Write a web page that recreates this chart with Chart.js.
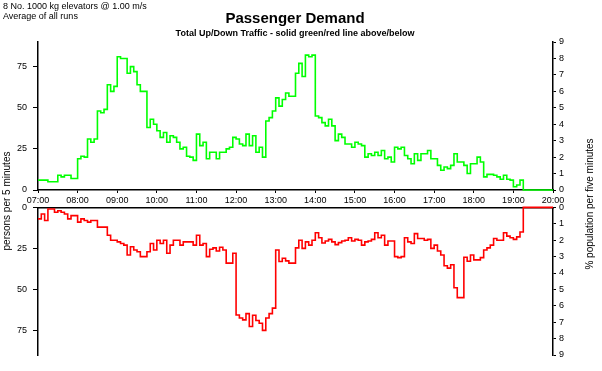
<!DOCTYPE html>
<html>
<head>
<meta charset="utf-8">
<title>Passenger Demand</title>
<script src="https://cdn.jsdelivr.net/npm/chart.js@4.4.0/dist/chart.umd.min.js"></script>
<style>
  body { margin: 0; background: #fff; font-family: Arial, "Liberation Sans", sans-serif; }
  #wrap { position: relative; width: 602px; height: 371px; overflow: hidden; background: #fff; }
  canvas { position: absolute; left: 0; }
  .txt { position: absolute; white-space: nowrap; color: #000; z-index: 2; }
  .vert { width: 160px; height: 12px; line-height: 12px; text-align: center; transform: rotate(-90deg); transform-origin: 80px 6px; }
</style>
</head>
<body>
<div id="wrap">
  <div class="txt" style="left:3px; top:1px; font-size:9px;">8 No. 1000 kg elevators @ 1.00 m/s</div>
  <div class="txt" style="left:3px; top:11px; font-size:9px;">Average of all runs</div>
  <div class="txt" style="left:295px; top:9px; font-size:15px; font-weight:bold; transform:translateX(-50%);">Passenger Demand</div>
  <div class="txt" style="left:295px; top:28px; font-size:9px; font-weight:bold; transform:translateX(-50%);">Total Up/Down Traffic - solid green/red line above/below</div>
  <div class="txt vert" style="left:-73px; top:195px; font-size:10px;">persons per 5 minutes</div>
  <div class="txt vert" style="left:510px; top:198px; font-size:10px;">% population per five minutes</div>
  <canvas id="upChart" width="602" height="206" style="top:0;"></canvas>
  <canvas id="downChart" width="602" height="175" style="top:196px;"></canvas>
</div>
<script>
// 5 minute intervals from 07:00 to 20:00 (156 steps)
const hourLabels = ['07:00', '08:00', '09:00', '10:00', '11:00', '12:00', '13:00',
                    '14:00', '15:00', '16:00', '17:00', '18:00', '19:00', '20:00'];
const personTicks = [0, 25, 50, 75];
const percentTicks = [0, 1, 2, 3, 4, 5, 6, 7, 8, 9];

// up traffic (persons per 5 minutes) - green line above
const upTraffic = [
  6, 6, 6, 5, 5, 5, 9, 8, 9, 9, 7, 7,
  19, 20.5, 20, 31, 29, 31, 48, 47, 49, 64, 60, 63,
  81, 80, 80, 71, 75, 72, 64, 60, 60, 38, 43, 40,
  36, 32, 35, 29, 33, 32, 29, 25, 26, 20.5, 20, 18,
  34, 27, 29, 19, 23, 23, 19, 23, 23, 25, 26, 32,
  31, 28, 27, 34, 27, 33, 23, 26, 20, 42, 44, 48,
  56, 51, 55, 59, 57, 57, 71, 77, 69, 82, 81, 82,
  45, 44, 41, 39, 43, 39, 30, 34, 32, 28, 28, 26,
  29, 28, 27, 20, 22, 21, 23, 21, 24, 19, 20, 17,
  26, 25, 26, 21, 19, 16, 22, 18, 22, 22, 24, 19,
  19, 15, 12, 14, 13, 15, 22, 17, 17, 15, 10, 16,
  16, 20, 17, 8, 9.5, 9.5, 9, 8, 6.5, 9, 6.5, 6,
  2, 3, 6, 0, 0, 0, 0, 0, 0, 0, 0, 0
];

// down traffic (persons per 5 minutes) - red line below
const downTraffic = [
  7, 4, 8, 1, 1, 3, 2, 3, 4, 7, 5, 5,
  9, 7, 8, 9, 8, 8, 12, 12, 12, 17, 20, 20,
  21, 22, 23, 29, 24, 26, 27, 30, 30, 27, 22, 26,
  20, 22, 20, 28, 23, 20, 20, 23, 21, 21, 21, 23,
  17, 23, 22, 30, 25.5, 24.7, 26.6, 24.3, 26, 34, 34, 28,
  65.6, 67.4, 68.6, 64.8, 72.6, 65.8, 69, 70.6, 75, 67.4, 64.8, 61.4,
  26, 33, 31, 32.6, 34, 34, 24.7, 20, 25, 21, 23, 20,
  15.5, 18.5, 21.7, 20.5, 19.5, 21, 22.7, 21.5, 20.5, 20, 18.5, 20.5,
  19.5, 20, 23, 21, 20.5, 19.5, 15.5, 18.5, 17, 23, 20.5, 20.5,
  30, 30.6, 30, 18.5, 21, 22, 16, 19, 19, 20, 19.5, 25,
  23, 26.6, 29, 35.6, 37, 35, 49, 55, 55, 30.4, 32.8, 29,
  32, 32, 30.6, 26, 24.7, 23, 19, 20, 20, 15.5, 17.5, 18.5,
  19.5, 18, 15, 0, 0, 0, 0, 0, 0, 0, 0, 0
];

const FONT = { family: 'Arial, "Liberation Sans", sans-serif', size: 9 };

// minutes after 07:00 for each value, plus a closing point at 20:00
function toPoints(values) {
  const pts = values.map((v, i) => ({ x: i * 5, y: v }));
  pts.push({ x: values.length * 5, y: values[values.length - 1] });
  return pts;
}

function xScale(showLabels, pos, height) {
  return {
    type: 'linear',
    position: pos,
    min: 0,
    max: 780,
    afterBuildTicks: s => { s.ticks = hourLabels.map((l, i) => ({ value: i * 60 })); },
    afterFit: s => { s.height = height; },
    grid: { drawOnChartArea: false, drawTicks: showLabels, tickLength: 3, color: '#000' },
    border: { display: true, color: '#000', width: 1.5 },
    ticks: {
      display: showLabels,
      padding: 2,
      color: '#000',
      font: FONT,
      maxRotation: 0,
      callback: (v) => hourLabels[Math.round(v / 60)]
    }
  };
}

function yScales(reverse) {
  return {
    y: {
      type: 'linear',
      position: 'left',
      min: 0,
      max: 90,
      reverse: reverse,
      afterBuildTicks: s => { s.ticks = personTicks.map(v => ({ value: v })); },
      afterFit: s => { s.width = 38; },
      grid: { drawOnChartArea: false, tickLength: 5, color: '#000' },
      border: { display: true, color: '#000', width: 1.5 },
      ticks: { padding: 6, color: '#000', font: FONT }
    },
    y2: {
      type: 'linear',
      position: 'right',
      min: 0,
      max: 9,
      reverse: reverse,
      afterBuildTicks: s => { s.ticks = percentTicks.map(v => ({ value: v })); },
      afterFit: s => { s.width = 49; },
      grid: { drawOnChartArea: false, tickLength: 3, color: '#000' },
      border: { display: true, color: '#000', width: 1.5 },
      ticks: { padding: 3, color: '#000', font: FONT }
    }
  };
}

function makeChart(id, values, colour, reverse, padding, xPos, xHeight, showLabels) {
  const scales = yScales(reverse);
  scales.x = xScale(showLabels, xPos, xHeight);
  return new Chart(document.getElementById(id), {
    type: 'line',
    data: {
      datasets: [{
        data: toPoints(values),
        yAxisID: 'y',
        borderColor: colour,
        borderWidth: 1.6,
        stepped: true,
        pointRadius: 0,
        fill: false,
        clip: 4
      }]
    },
    options: {
      responsive: false,
      animation: false,
      devicePixelRatio: 1,
      layout: { padding: padding },
      plugins: { legend: { display: false }, tooltip: { enabled: false } },
      scales: scales
    }
  });
}

makeChart('upChart', upTraffic, '#00ff00', false, { top: 42, left: 0, right: 0, bottom: 0 }, 'bottom', 16, true);
makeChart('downChart', downTraffic, '#ff0000', true, { top: 10, left: 0, right: 0, bottom: 16 }, 'top', 0, false);
</script>
</body>
</html>
